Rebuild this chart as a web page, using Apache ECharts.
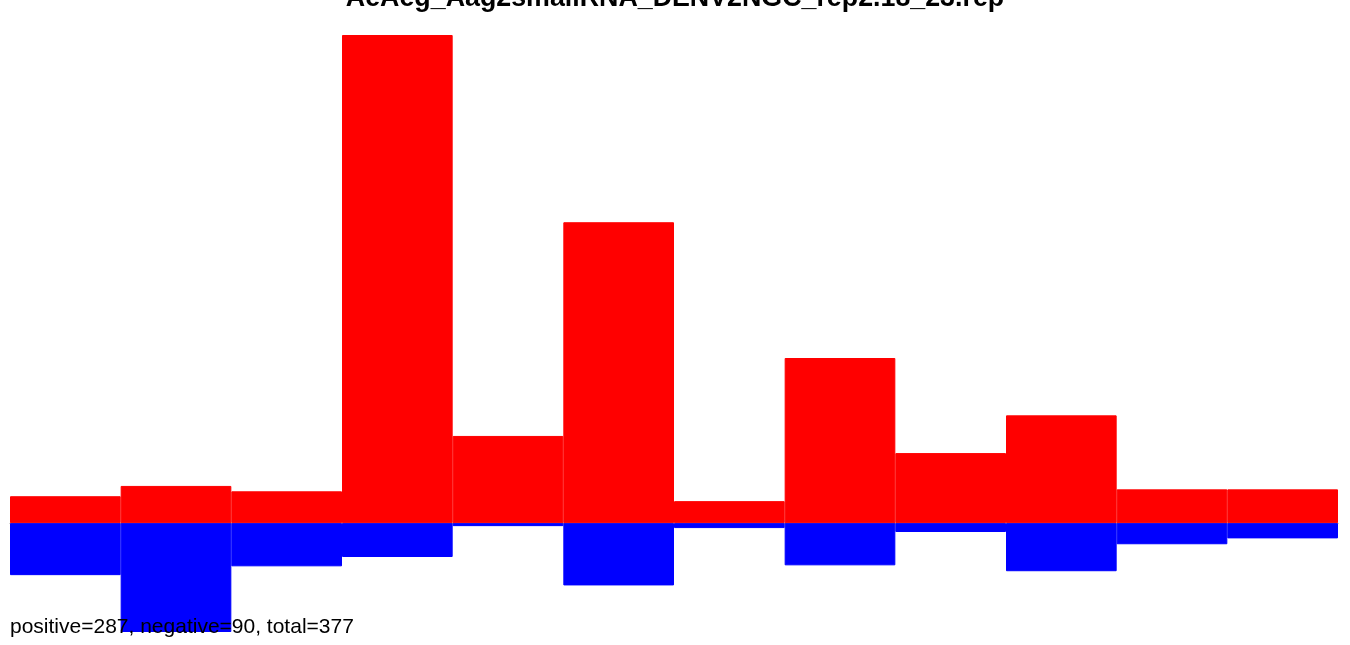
<!DOCTYPE html>
<html>
<head>
<meta charset="utf-8">
<script src="https://cdn.jsdelivr.net/npm/echarts@6/dist/echarts.min.js"></script>
<style>html,body{margin:0;padding:0;background:#fff;}#c{width:1350px;height:645px;}</style>
</head>
<body>
<div id="c"></div>
<script>
var categories = ['1','2','3','4','5','6','7','8','9','10','11','12'];
var positiveValues = [5.5, 7.6, 6.5, 99.6, 17.8, 61.4, 4.5, 33.7, 14.3, 22.0, 6.9, 6.9];
var negativeValues = [-10.6, -22.2, -8.8, -6.9, -0.6, -12.7, -1.0, -8.6, -1.8, -9.8, -4.3, -3.1];
var titleText = 'AeAeg_Aag2smallRNA_DENV2NGC_rep2.18_23.rep';
var footerText = 'positive=287, negative=90, total=377';

var chart = echarts.init(document.getElementById('c'));
chart.setOption({
  animation: false,
  backgroundColor: '#ffffff',
  title: [
    { text: titleText, left: 'center', top: -20,
      textStyle: { fontFamily: 'Liberation Sans', fontWeight: 'bold', fontSize: 26.8, color: '#000' } },
    { text: footerText, left: 5, top: 612, z: 10,
      textStyle: { fontFamily: 'Liberation Sans', fontWeight: 'normal', fontSize: 21, color: '#000' } }
  ],
  grid: { left: 10, right: 12, top: 35, bottom: 13 },
  xAxis: {
    type: 'category', data: categories, boundaryGap: true,
    axisLine: { show: true, onZero: true, lineStyle: { color: '#999', width: 1 } },
    axisTick: { show: false }, axisLabel: { show: false }, splitLine: { show: false }
  },
  yAxis: {
    type: 'value', min: -22.2, max: 99.6,
    axisLine: { show: false }, axisTick: { show: false }, axisLabel: { show: false }, splitLine: { show: false }
  },
  series: [
    { type: 'bar', data: positiveValues, barWidth: '100%', barGap: '-100%',
      itemStyle: { color: '#ff0000', borderColor: '#ff0000', borderWidth: 1 } },
    { type: 'bar', data: negativeValues, barWidth: '100%', barGap: '-100%',
      itemStyle: { color: '#0000ff', borderColor: '#0000ff', borderWidth: 1 } }
  ]
});
</script>
</body>
</html>
